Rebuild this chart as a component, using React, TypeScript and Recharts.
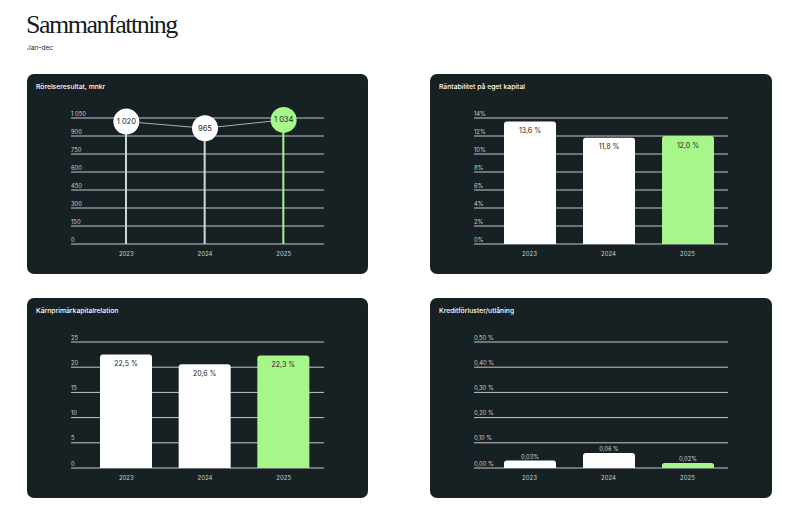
import React from 'react';
import { ComposedChart, BarChart, Bar, Line, XAxis, YAxis, CartesianGrid, Cell, LabelList } from 'recharts';

const years = ['2023', '2024', '2025'];
const operatingProfit = [1020, 965, 1034];
const returnOnEquity = [13.6, 11.8, 12.0];
const cet1Ratio = [22.5, 20.6, 22.3];
const creditLossRatio = [0.03, 0.06, 0.02];
const creditLossLabels = ['0,03%', '0,06 %', '0,02%'];

const profitTicks = [0, 150, 300, 450, 600, 750, 900, 1050];
const roeTicks = [0, 2, 4, 6, 8, 10, 12, 14];
const cet1Ticks = [0, 5, 10, 15, 20, 25];
const creditTicks = [0, 0.1, 0.2, 0.3, 0.4, 0.5];

const titles = ['Rörelseresultat, mnkr', 'Räntabilitet på eget kapital', 'Kärnprimärkapitalrelation', 'Kreditförluster/utlåning'];

const GREEN = '#a7f68a';
const WHITE = '#ffffff';
const PANEL = '#172123';
const GRID = '#c3c8ca';
const TEXT_DIM = '#c9ced1';
const DARK = '#1b2426';
const FONT = 'Inter, "Noto Sans", sans-serif';

const barColors = [WHITE, WHITE, GREEN];
const stemColors = ['#cdd5da', '#cdd5da', GREEN];

const H = 200;
const MARGIN = { top: 44, right: 44, bottom: 10, left: 43 };
const PLOT_LEFT = 44;
const XH = 20;
const PLOT_BOTTOM = H - MARGIN.bottom - XH;

const fmtThousands = (v: number) => (v >= 1000 ? `${Math.floor(v / 1000)} ${String(v % 1000).padStart(3, '0')}` : String(v));
const fmtPct1 = (v: number) => `${v.toFixed(1).replace('.', ',')} %`;

const makeYTick = (fmt: (v: number) => string) => (props: any) => {
  const { y, payload } = props;
  return (
    <text x={PLOT_LEFT} y={y - 5} fill={TEXT_DIM} fontSize={5.8} fontFamily={FONT} dominantBaseline="central" textAnchor="start">
      {fmt(payload.value)}
    </text>
  );
};

const XTick = (props: any) => {
  const { x, payload } = props;
  return (
    <text x={x} y={PLOT_BOTTOM + 9} fill={TEXT_DIM} fontSize={6} fontFamily={FONT} dominantBaseline="central" textAnchor="middle">
      {payload.value}
    </text>
  );
};

const profitData = years.map((y, i) => ({ year: y, value: operatingProfit[i] }));
const roeData = years.map((y, i) => ({ year: y, value: returnOnEquity[i] }));
const cet1Data = years.map((y, i) => ({ year: y, value: cet1Ratio[i] }));
const creditData = years.map((y, i) => ({ year: y, value: creditLossRatio[i], label: creditLossLabels[i] }));

const ProfitDot = (props: any) => {
  const { cx, cy, index, value } = props;
  return (
    <g key={`dot-${index}`}>
      <circle cx={cx} cy={cy} r={13} fill={barColors[index]} />
      <text x={cx} y={cy} fill={DARK} fontSize={7.5} fontFamily={FONT} textAnchor="middle" dominantBaseline="central">
        {fmtThousands(value)}
      </text>
    </g>
  );
};

const insideLabel = (fmt: (v: number) => string) => (props: any) => {
  const { x, y, width, value } = props;
  return (
    <text x={x + width / 2} y={y + 9} fill={DARK} fontSize={7} fontFamily={FONT} textAnchor="middle" dominantBaseline="central">
      {fmt(value)}
    </text>
  );
};

const aboveLabel = (props: any) => {
  const { x, y, width, value } = props;
  return (
    <text x={x + width / 2} y={y - 4} fill={TEXT_DIM} fontSize={5.8} fontFamily={FONT} textAnchor="middle" dominantBaseline="central">
      {value}
    </text>
  );
};

const Panel = ({ left, top, width, title, children }: any) => (
  <div style={{ position: 'absolute', left, top, width, height: H, background: PANEL, borderRadius: 7, overflow: 'hidden' }}>
    <div style={{ position: 'absolute', left: 9, top: 8, color: '#ffffff', fontFamily: FONT, fontSize: 6.8, fontWeight: 500 }}>{title}</div>
    <div style={{ position: 'absolute', left: 0, top: 0 }}>{children}</div>
  </div>
);

export default function App() {
  return (
    <div style={{ position: 'absolute', left: 0, top: 0, width: 800, height: 516, background: '#ffffff', overflow: 'hidden' }}>
      <div style={{ position: 'absolute', left: 26, top: 10, fontFamily: '"Liberation Serif", serif', fontSize: 26, letterSpacing: -1.5, color: '#141c1e' }}>
        Sammanfattning
      </div>
      <div style={{ position: 'absolute', left: 27, top: 44, fontFamily: FONT, fontSize: 6.5, color: '#141c1e' }}>Jan–dec</div>

      <Panel left={27} top={74} width={341} title={titles[0]}>
        <ComposedChart width={341} height={H} data={profitData} margin={MARGIN}>
          <CartesianGrid vertical={false} stroke={GRID} strokeWidth={1} />
          <XAxis dataKey="year" axisLine={false} tickLine={false} height={XH} tick={<XTick />} padding={{ left: 16, right: 1 }} interval={0} />
          <YAxis width={1} axisLine={false} tickLine={false} domain={[0, 1050]} ticks={profitTicks} tick={makeYTick(fmtThousands)} interval={0} />
          <Bar dataKey="value" barSize={2} isAnimationActive={false}>
            {profitData.map((d, i) => (
              <Cell key={d.year} fill={stemColors[i]} />
            ))}
          </Bar>
          <Line dataKey="value" stroke="#a9b2b6" strokeWidth={1} dot={<ProfitDot />} activeDot={false} isAnimationActive={false} />
        </ComposedChart>
      </Panel>

      <Panel left={430} top={74} width={342} title={titles[1]}>
        <BarChart width={342} height={H} data={roeData} margin={MARGIN}>
          <CartesianGrid vertical={false} stroke={GRID} strokeWidth={1} />
          <XAxis dataKey="year" axisLine={false} tickLine={false} height={XH} tick={<XTick />} padding={{ left: 16, right: 1 }} interval={0} />
          <YAxis width={1} axisLine={false} tickLine={false} domain={[0, 14]} ticks={roeTicks} tick={makeYTick((v) => `${v}%`)} interval={0} />
          <Bar dataKey="value" barSize={52} radius={[3, 3, 0, 0]} isAnimationActive={false}>
            {roeData.map((d, i) => (
              <Cell key={d.year} fill={barColors[i]} />
            ))}
            <LabelList dataKey="value" content={insideLabel(fmtPct1)} />
          </Bar>
        </BarChart>
      </Panel>

      <Panel left={27} top={298} width={341} title={titles[2]}>
        <BarChart width={341} height={H} data={cet1Data} margin={MARGIN}>
          <CartesianGrid vertical={false} stroke={GRID} strokeWidth={1} />
          <XAxis dataKey="year" axisLine={false} tickLine={false} height={XH} tick={<XTick />} padding={{ left: 16, right: 1 }} interval={0} />
          <YAxis width={1} axisLine={false} tickLine={false} domain={[0, 25]} ticks={cet1Ticks} tick={makeYTick((v) => String(v))} interval={0} />
          <Bar dataKey="value" barSize={52} radius={[3, 3, 0, 0]} isAnimationActive={false}>
            {cet1Data.map((d, i) => (
              <Cell key={d.year} fill={barColors[i]} />
            ))}
            <LabelList dataKey="value" content={insideLabel(fmtPct1)} />
          </Bar>
        </BarChart>
      </Panel>

      <Panel left={430} top={298} width={342} title={titles[3]}>
        <BarChart width={342} height={H} data={creditData} margin={MARGIN}>
          <CartesianGrid vertical={false} stroke={GRID} strokeWidth={1} />
          <XAxis dataKey="year" axisLine={false} tickLine={false} height={XH} tick={<XTick />} padding={{ left: 16, right: 1 }} interval={0} />
          <YAxis width={1} axisLine={false} tickLine={false} domain={[0, 0.5]} ticks={creditTicks} tick={makeYTick((v) => `${v.toFixed(2).replace('.', ',')} %`)} interval={0} />
          <Bar dataKey="value" barSize={52} radius={[3, 3, 0, 0]} isAnimationActive={false}>
            {creditData.map((d, i) => (
              <Cell key={d.year} fill={barColors[i]} />
            ))}
            <LabelList dataKey="label" content={aboveLabel} />
          </Bar>
        </BarChart>
      </Panel>
    </div>
  );
}
